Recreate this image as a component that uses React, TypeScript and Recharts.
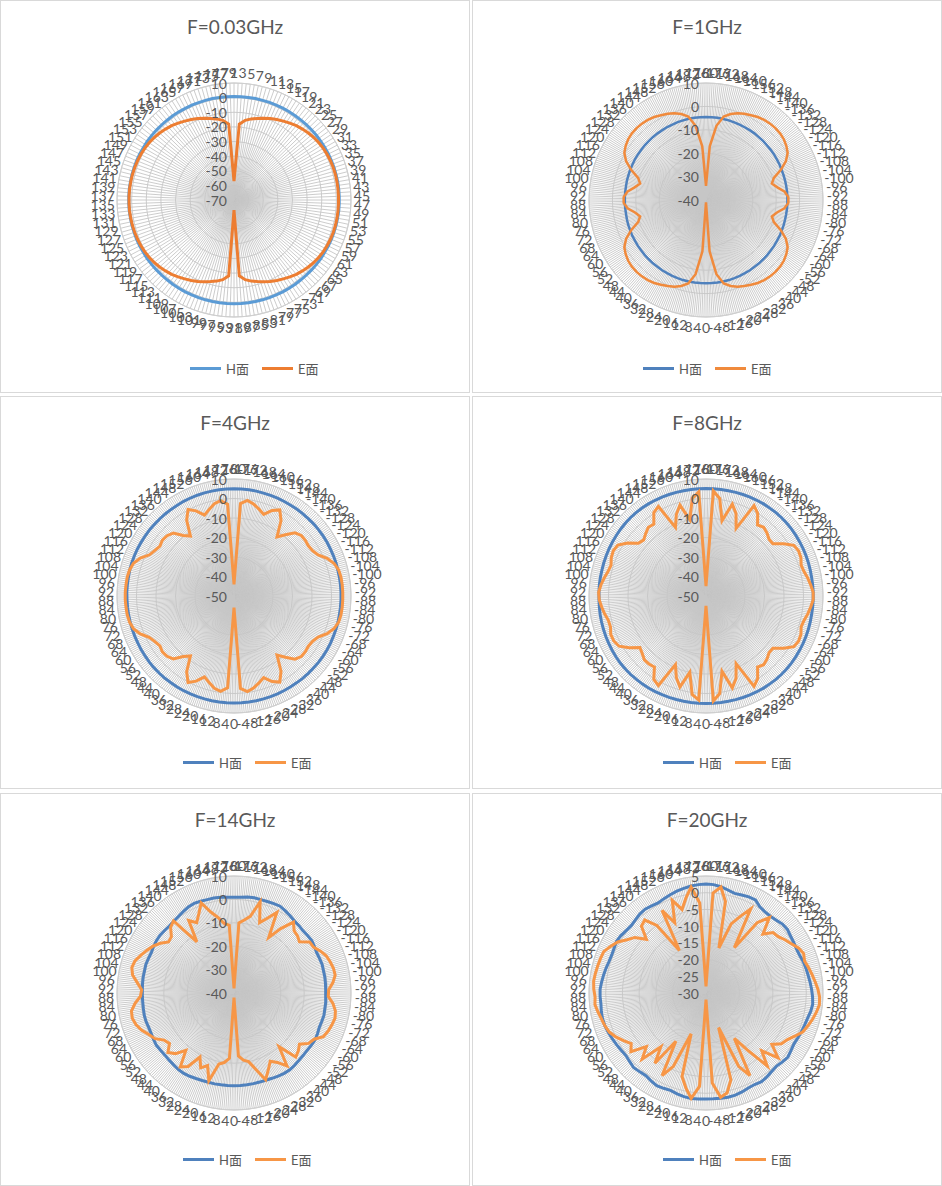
import React from 'react';
import {
  RadarChart,
  Radar,
  PolarGrid,
  PolarAngleAxis,
  PolarRadiusAxis,
  Legend
} from 'recharts';

// category labels (angle axis), clockwise from the top
const ODD_LABELS = [
  1, 3, 5, 7, 9, 11, 13, 15, 17, 19,
  21, 23, 25, 27, 29, 31, 33, 35, 37, 39,
  41, 43, 45, 47, 49, 51, 53, 55, 57, 59,
  61, 63, 65, 67, 69, 71, 73, 75, 77, 79,
  81, 83, 85, 87, 89, 91, 93, 95, 97, 99,
  101, 103, 105, 107, 109, 111, 113, 115, 117, 119,
  121, 123, 125, 127, 129, 131, 133, 135, 137, 139,
  141, 143, 145, 147, 149, 151, 153, 155, 157, 159,
  161, 163, 165, 167, 169, 171, 173, 175, 177, 179
];

const DEG_LABELS = [
  180, -176, -172, -168, -164, -160, -156, -152, -148, -144,
  -140, -136, -132, -128, -124, -120, -116, -112, -108, -104,
  -100, -96, -92, -88, -84, -80, -76, -72, -68, -64,
  -60, -56, -52, -48, -44, -40, -36, -32, -28, -24,
  -20, -16, -12, -8, -4, 0, 4, 8, 12, 16,
  20, 24, 28, 32, 36, 40, 44, 48, 52, 56,
  60, 64, 68, 72, 76, 80, 84, 88, 92, 96,
  100, 104, 108, 112, 116, 120, 124, 128, 132, 136,
  140, 144, 148, 152, 156, 160, 164, 168, 172, 176
];

// F=0.03GHz
const H_003 = [
  0.8, 0.8, 0.8, 0.9, 0.9, 1.0, 1.0, 1.1, 1.2, 1.2,
  1.3, 1.4, 1.5, 1.6, 1.6, 1.7, 1.8, 1.8, 1.9, 1.9,
  2.0, 2.0, 2.0, 2.0, 2.0, 1.9, 1.9, 1.8, 1.8, 1.7,
  1.6, 1.6, 1.5, 1.4, 1.3, 1.2, 1.2, 1.1, 1.1, 1.0,
  1.0, 1.0, 0.9, 0.9, 0.9, 0.9,
  0.9, 0.9, 0.9, 1.0, 1.0, 1.0, 1.1, 1.1, 1.2, 1.2,
  1.3, 1.4, 1.5, 1.6, 1.6, 1.7, 1.8, 1.8, 1.9, 1.9,
  2.0, 2.0, 2.0, 2.0, 1.9, 1.9, 1.8, 1.8, 1.7, 1.6,
  1.6, 1.5, 1.4, 1.3, 1.2, 1.2, 1.1, 1.0, 1.0, 0.9,
  0.9, 0.9, 0.8, 0.8
];
const E_003 = [
  -57, -18, -15, -13.3, -12, -10.5, -9, -7.7, -6.4, -5,
  -3.7, -2.6, -1.6, -0.7, 0, 0.5, 0.9, 1.2, 1.4, 1.5,
  1.5, 1.5, 1.5, 1.5, 1.5, 1.5, 1.5, 1.4, 1.2, 0.9,
  0.5, 0, -0.7, -1.6, -2.6, -3.7, -5, -6.4, -7.7, -9,
  -10.5, -12, -13.3, -15, -18, -63,
  -18, -15, -13.3, -12, -10.5, -9, -7.7, -6.4, -5, -3.7,
  -2.6, -1.6, -0.7, 0, 0.5, 0.9, 1.2, 1.4, 1.6, 1.7,
  1.8, 1.8, 1.8, 1.8, 1.7, 1.6, 1.4, 1.2, 0.9, 0.5,
  0, -0.7, -1.6, -2.6, -3.7, -5, -6.4, -7.7, -9, -10.5,
  -12, -13.3, -15, -18
];

// F=1GHz
const H_1 = [
  -4.5, -4.5, -4.5, -4.6, -4.6, -4.7, -4.7, -4.8, -4.8, -4.8,
  -4.9, -4.9, -5.0, -5.0, -5.0, -5.1, -5.1, -5.2, -5.2, -5.2,
  -5.2, -5.2, -5.2, -5.2, -5.2, -5.2, -5.2, -5.1, -5.1, -5.0,
  -5.0, -4.9, -4.9, -4.8, -4.8, -4.7, -4.7, -4.6, -4.6, -4.5,
  -4.5, -4.4, -4.4, -4.4, -4.4, -4.4,
  -4.4, -4.4, -4.4, -4.4, -4.5, -4.5, -4.6, -4.6, -4.7, -4.7,
  -4.8, -4.8, -4.9, -4.9, -5.0, -5.0, -5.1, -5.1, -5.2, -5.3,
  -5.3, -5.3, -5.3, -5.3, -5.3, -5.2, -5.2, -5.1, -5.1, -5.0,
  -5.0, -5.0, -4.9, -4.9, -4.8, -4.8, -4.8, -4.7, -4.7, -4.6,
  -4.6, -4.5, -4.5, -4.5
];
const E_1 = [
  -34, -17, -8, -3.5, -1.8, -0.5, 0.3, 1, 1.8, 2.3,
  2.6, 2.7, 2.6, 2.2, 1.4, 0.3, -2, -5.5, -9.5, -11,
  -9, -6.2, -4.8, -4.8, -6.3, -9.2, -11, -9.5, -5.5, -2,
  0.3, 1.4, 2.2, 2.6, 2.7, 2.6, 2.3, 1.8, 1, 0.2,
  -0.6, -1.8, -3.5, -8, -18, -39,
  -18, -8, -3.5, -1.8, -0.6, 0.2, 1, 1.8, 2.3, 2.6,
  2.7, 2.6, 2.2, 1.4, 0.3, -2, -5.5, -9.5, -11, -9.2,
  -6.3, -4.8, -4.8, -6.2, -9, -11, -9.5, -5.5, -2, 0.3,
  1.4, 2.2, 2.6, 2.7, 2.6, 2.3, 1.8, 1, 0.3, -0.5,
  -1.8, -3.5, -8, -17
];

// F=4GHz
const H_4 = [
  5.0, 5.0, 5.0, 5.0, 4.9, 4.9, 4.9, 4.9, 4.9, 5.0,
  5.0, 5.0, 5.1, 5.1, 5.1, 5.1, 5.0, 5.0, 5.0, 4.9,
  4.9, 4.9, 4.9, 4.9, 4.9, 4.9, 5.0, 5.0, 5.0, 5.1,
  5.1, 5.1, 5.1, 5.0, 5.0, 5.0, 4.9, 4.9, 4.9, 4.9,
  4.9, 4.9, 4.9, 4.9, 4.9, 4.9,
  4.9, 4.9, 4.9, 4.9, 4.9, 4.9, 5.0, 5.0, 5.0, 5.1,
  5.1, 5.1, 5.1, 5.0, 5.0, 4.9, 4.9, 4.9, 4.9, 4.9,
  4.9, 4.9, 5.0, 5.0, 5.0, 5.1, 5.1, 5.1, 5.1, 5.0,
  5.0, 5.0, 4.9, 4.9, 4.9, 4.9, 4.9, 5.0, 5.0, 5.0,
  5.0, 5.0, 5.0, 5.0
];
const E_4 = [
  -44, -2.5, -0.5, -1.8, -3.6, -5.5, -2, 0, -4.5, -12.5,
  -9, -5, -3.6, -3.6, -4, -3.5, -2, 1.5, 4, 5.3,
  5.7, 5.8, 5.8, 5.8, 5.8, 5.7, 5.3, 4, 1.5, -2,
  -3.5, -4, -3.6, -3.6, -5, -9, -12.5, -4.5, 0, -2,
  -5.5, -3.6, -1.8, -0.5, -2.5, -44,
  -2.8, -0.6, -1.6, -3.8, -5.8, -2.2, 0.2, -4.2, -12, -9.5,
  -5.2, -3.8, -3.4, -4.2, -3.2, -1.6, 1.8, 4.2, 5.2, 5.6,
  5.7, 5.8, 5.8, 5.7, 5.6, 5.2, 4.2, 1.8, -1.8, -3.2,
  -4.2, -3.4, -3.8, -5.2, -9.5, -12, -4.2, 0.2, -2.2, -5.8,
  -3.8, -1.6, -0.6, -2.8
];

// F=8GHz
const H_8 = [
  5.1, 5.1, 5.2, 5.2, 5.3, 5.4, 5.5, 5.6, 5.7, 5.7,
  5.8, 5.8, 5.8, 5.7, 5.6, 5.5, 5.4, 5.3, 5.2, 5.1,
  5.0, 5.0, 5.0, 5.0, 5.0, 5.0, 5.1, 5.2, 5.3, 5.4,
  5.5, 5.6, 5.7, 5.8, 5.8, 5.8, 5.7, 5.7, 5.6, 5.5,
  5.4, 5.3, 5.2, 5.2, 5.1, 5.1,
  5.1, 5.1, 5.2, 5.2, 5.3, 5.4, 5.5, 5.6, 5.7, 5.7,
  5.8, 5.8, 5.8, 5.7, 5.6, 5.5, 5.4, 5.3, 5.2, 5.1,
  5.0, 4.9, 4.9, 5.0, 5.0, 5.0, 5.1, 5.2, 5.3, 5.4,
  5.5, 5.6, 5.7, 5.8, 5.8, 5.8, 5.7, 5.6, 5.5, 5.4,
  5.3, 5.2, 5.2, 5.1
];
const E_8 = [
  -45, 4, 0.5, -10.5, -1, -5, -12, 2.5, 0, -5,
  -4, -5, -6.5, -6.5, -2, 2, 2.8, 2.5, 1.3, 1.8,
  3, 4, 5, 5, 4, 3, 1.8, 1.3, 2.5, 2.8,
  2, -2, -6.5, -6.5, -5, -4, -5, 0, 2.5, -12,
  -5, -1, -10.5, 0.5, 4, -45,
  3.5, 1, -10, -1.5, -5.5, -11.5, 2, 0.5, -5, -4.5,
  -4.5, -6, -7, -2.5, 1.5, 2.6, 2.7, 1.5, 1.6, 2.8,
  3.8, 4.8, 5.1, 4.2, 3, 1.8, 1.2, 2.4, 2.9, 2.2,
  -1.5, -6, -7, -5.5, -4, -4.5, 0.5, 2, -11.5, -5.5,
  -1.5, -10, 0.5, 3.5
];

// F=14GHz
const H_14 = [
  0.9, 1.0, 1.4, 1.6, 1.5, 1.6, 1.8, 2.0, 1.4, 0.8,
  0.2, 0, -0.3, -0.1, 0.1, -0.3, -0.7, -0.6, -0.4, -0.6,
  -0.6, -0.7, -0.8, -0.8, -0.6, -0.6, -0.4, -0.6, -0.7, -0.3,
  0, -0.1, -0.3, -0.2, 0, 0.3, 0.6, 0.5, 0.2, -0.1,
  -0.3, -0.4, -0.4, -0.4, -0.4, -0.4,
  -0.4, -0.4, -0.3, -0.3, -0.2, 0, 0.3, 0.5, 0.4, 0.1,
  -0.1, -0.3, -0.2, 0, -0.3, -0.6, -0.7, -0.5, -0.5, -0.7,
  -0.8, -0.8, -0.8, -0.7, -0.6, -0.6, -0.4, -0.6, -0.7, -0.3,
  0, 0.1, -0.1, -0.2, 0, 0.4, 1.0, 1.6, 1.9, 1.7,
  1.5, 1.5, 1.3, 1.0
];
const E_14 = [
  -38, -10, -8.5, -6.5, 0.5, -8, -5, -1, -12, -6,
  -0.5, -3, -3.5, -4.5, -1, -0.8, 1, 2.5, 3.2, 3.8,
  3.9, 2.5, 0.5, 0.3, 2.5, 4, 4.5, 4, 3.4, 2.5,
  -0.5, -1.5, -4.5, -3, -2, -10, -1.5, -5, -7, -4,
  -0.5, -6, -10, -11, -13, -38,
  -12, -10, -9, -1, -7, -5, -9, -3, -1, -8,
  -4, -2, -5, -4, -1, 0.5, 2.5, 4, 4.8, 4.5,
  2.5, 0, -0.5, 1.5, 4, 5, 4.5, 3, 1.5, 0,
  -2, -4.5, -4, -1, 0.2, -13, -3.5, -6, -3, 1,
  -4, -7, -10, -11
];

// F=20GHz
const H_20 = [
  2.6, 2.5, 2.1, 1.5, 1.0, 1.2, 1.5, 1.5, 0.4, 0,
  0, 0.3, 0.8, 0.9, 0.5, 0.3, 0.1, 0.2, 0.6, 0.8,
  1.0, 1.3, 1.6, 1.9, 2.1, 1.8, 1.3, 1.0, 0.8, 0.6,
  0.4, 0.7, 1.1, 0.8, 0.4, 0.6, 1.0, 1.3, 1.0, 1.1,
  1.5, 1.8, 1.9, 1.8, 1.7, 1.7,
  1.8, 1.9, 1.7, 1.4, 1.0, 1.2, 1.4, 1.0, 0.6, 0.8,
  1.1, 0.7, 0.4, 0.6, 0.9, 1.2, 1.5, 1.8, 1.9, 1.8,
  1.6, 1.7, 1.7, 1.4, 1.1, 0.8, 0.5, 0.4, 0.6, 0.9,
  0.7, 0.3, 0.1, 0.4, 0.8, 1.0, 0.7, 0.5, 0.9, 1.3,
  1.7, 2.0, 2.3, 2.5
];
const E_20 = [
  -28, 0, 2, -2, -16, -8, -5, -1.5, -14, -4,
  -0.5, -5.5, -3, -2.6, -1.5, -0.5, 0.8, 1.5, 1, 1.6,
  2.2, 2.8, 3.5, 4, 4.1, 3.5, 2.8, 2, 1.2, -0.5,
  -2, -2.8, -5, -1, -6, -1.5, -9, -14, -2, -6,
  -19, -3, 0.5, 1.5, -3, -28,
  -2, 1.8, -1, -4, -17, -6, -2, -13, -4, -9,
  -2.5, -6, -1.5, -3, -1.5, 0, 1.2, 1.8, 2.2, 2.8,
  3.4, 3.2, 3.6, 3.8, 3.6, 3.4, 3.2, 3, 1.8, 0.5,
  -1.5, -3, -6, -2.2, -1.5, -5, -15, -2, -7, -0.5,
  -4, -1, 2, -3
];

const FONT = 'Lato, "Noto Sans CJK SC", sans-serif';
const TEXT = '#595959';
const GRID = '#c6c6c6';
const PANEL_W = 470;
const PANEL_H = 393;
const CX = 233;
const CY = 199;
const R = 117;
const SERIES_ORDER = ['H', 'E'];

const makeSpokes = (n: number) => Array.from({ length: n }, (_, i) => 90 - (i * 360) / n);

const PANELS = [
  { title: 'F=0.03GHz', labels: ODD_LABELS, h: H_003, e: E_003, domain: [-70, 10], tickCount: 9, spokes: 180, blue: '#5B9BD5', orange: '#ED7D31', lw: 3, legendLeft: 189, legendTop: 358, left: 0, top: 0 },
  { title: 'F=1GHz', labels: DEG_LABELS, h: H_1, e: E_1, domain: [-40, 10], tickCount: 6, spokes: 360, blue: '#4F81BD', orange: '#F08A3C', lw: 2.5, legendLeft: 170, legendTop: 358, left: 472, top: 0 },
  { title: 'F=4GHz', labels: DEG_LABELS, h: H_4, e: E_4, domain: [-50, 10], tickCount: 7, spokes: 360, blue: '#4F81BD', orange: '#F79646', lw: 3, legendLeft: 182, legendTop: 356, left: 0, top: 396 },
  { title: 'F=8GHz', labels: DEG_LABELS, h: H_8, e: E_8, domain: [-50, 10], tickCount: 7, spokes: 360, blue: '#4F81BD', orange: '#F79646', lw: 3, legendLeft: 190, legendTop: 356, left: 472, top: 396 },
  { title: 'F=14GHz', labels: DEG_LABELS, h: H_14, e: E_14, domain: [-40, 10], tickCount: 6, spokes: 360, blue: '#4F81BD', orange: '#F79646', lw: 3, legendLeft: 182, legendTop: 356, left: 0, top: 793 },
  { title: 'F=20GHz', labels: DEG_LABELS, h: H_20, e: E_20, domain: [-30, 5], tickCount: 8, spokes: 360, blue: '#4F81BD', orange: '#F79646', lw: 3, legendLeft: 190, legendTop: 356, left: 472, top: 793 }
];

// Excel-like placement: the label box sits just outside the outer ring
const AngleTick = (props: any) => {
  const { x, y, payload } = props;
  const dx = x - CX;
  const dy = y - CY;
  const d = Math.hypot(dx, dy) || 1;
  const ux = dx / d;
  const uy = dy / d;
  const label = String(payload.value);
  const w = label.length * 7;
  const h = 13;
  const r0 = R + 4;
  return (
    <text
      x={CX + ux * r0 + (ux * w) / 2}
      y={CY + uy * r0 + (uy * h) / 2}
      textAnchor="middle"
      dominantBaseline="central"
      fontSize={14}
      fontFamily={FONT}
      fill={TEXT}
    >
      {label}
    </text>
  );
};

const RadiusTick = (props: any) => {
  const { y, payload } = props;
  return (
    <text x={CX - 7} y={y} textAnchor="end" dominantBaseline="central" fontSize={14} fontFamily={FONT} fill={TEXT}>
      {payload.value}
    </text>
  );
};

const LegendContent = ({ payload, colors }: any) => {
  const items = [...(payload || [])].sort(
    (a: any, b: any) => SERIES_ORDER.indexOf(a.dataKey) - SERIES_ORDER.indexOf(b.dataKey)
  );
  return (
    <div style={{ display: 'flex', alignItems: 'center', fontFamily: FONT, fontSize: 13, color: TEXT, whiteSpace: 'nowrap' }}>
      {items.map((p: any, i: number) => (
        <div key={i} style={{ display: 'flex', alignItems: 'center', marginRight: 13 }}>
          <div style={{ width: 31, height: 3, background: colors[p.dataKey], marginRight: 5 }} />
          <span>{p.value}</span>
        </div>
      ))}
    </div>
  );
};

const Panel = ({ cfg }: { cfg: typeof PANELS[number] }) => {
  const data = cfg.labels.map((cat, i) => ({ cat, H: cfg.h[i], E: cfg.e[i] }));
  const colors = { H: cfg.blue, E: cfg.orange };
  return (
    <div
      style={{
        position: 'absolute',
        left: cfg.left,
        top: cfg.top,
        width: PANEL_W,
        height: PANEL_H,
        border: '1px solid #d9d9d9',
        boxSizing: 'border-box',
        background: '#fff'
      }}
    >
      <div
        style={{
          position: 'absolute',
          left: 0,
          top: 14,
          width: PANEL_W - 2,
          textAlign: 'center',
          fontFamily: FONT,
          fontSize: 19,
          color: TEXT
        }}
      >
        {cfg.title}
      </div>
      <div style={{ position: 'absolute', left: 0, top: 0 }}>
        <RadarChart
          width={PANEL_W - 2}
          height={PANEL_H - 2}
          data={data}
          cx={CX}
          cy={CY}
          outerRadius={R}
          margin={{ top: 0, right: 0, bottom: 0, left: 0 }}
        >
          <PolarGrid gridType="circle" polarAngles={makeSpokes(cfg.spokes)} stroke={GRID} strokeWidth={0.9} />
          <PolarAngleAxis dataKey="cat" tick={(p: any) => <AngleTick {...p} />} tickLine={false} axisLine={{ stroke: '#d0d0d0' }} />
          <PolarRadiusAxis
            angle={90}
            domain={cfg.domain as [number, number]}
            tickCount={cfg.tickCount}
            axisLine={false}
            tickLine={false}
            tick={(p: any) => <RadiusTick {...p} />}
          />
          <Radar name="H面" dataKey="H" stroke={cfg.blue} strokeWidth={cfg.lw} fill="none" fillOpacity={0} dot={false} isAnimationActive={false} />
          <Radar name="E面" dataKey="E" stroke={cfg.orange} strokeWidth={cfg.lw} fill="none" fillOpacity={0} dot={false} isAnimationActive={false} />
          <Legend
            content={(p: any) => <LegendContent {...p} colors={colors} />}
            wrapperStyle={{ left: cfg.legendLeft, top: cfg.legendTop, bottom: 'auto', width: 'auto' }}
          />
        </RadarChart>
      </div>
    </div>
  );
};

export default function App() {
  return (
    <div style={{ position: 'absolute', left: 0, top: 0, width: 942, height: 1186, background: '#fff' }}>
      {PANELS.map((cfg) => (
        <Panel key={cfg.title} cfg={cfg} />
      ))}
    </div>
  );
}
